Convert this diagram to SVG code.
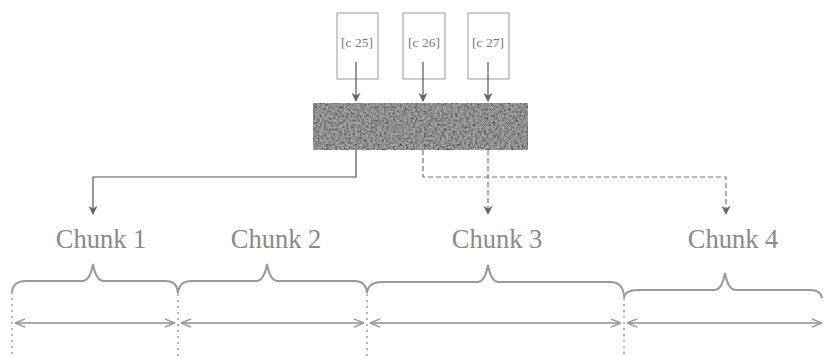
<svg xmlns="http://www.w3.org/2000/svg" width="827" height="358" viewBox="0 0 827 358">
<style>
.box{fill:#fff;stroke:#999;stroke-width:1}
.btxt{font-family:"Liberation Serif",serif;font-size:13.5px;fill:#777;text-anchor:middle}
.chunk{font-family:"Liberation Serif",serif;font-size:26.5px;fill:#8a8a8a;text-anchor:middle}
.conn{fill:none;stroke:#555;stroke-width:1.2}
.dash{fill:none;stroke:#777;stroke-width:1.2;stroke-dasharray:5 3}
.brace{fill:none;stroke:#999;stroke-width:2}
.dim{fill:none;stroke:#aaa;stroke-width:2}
.vdot{fill:none;stroke:#888;stroke-width:1.2;stroke-dasharray:2 4}
</style>
<defs>
<marker id="ah" viewBox="0 0 10 10" refX="9" refY="5" markerWidth="9" markerHeight="9" orient="auto-start-reverse" markerUnits="userSpaceOnUse">
<path d="M0,0 L10,5 L0,10 L3,5 Z" fill="#666"/>
</marker>
<marker id="oh" viewBox="0 0 10 10" refX="10" refY="5" markerWidth="10" markerHeight="10" orient="auto-start-reverse" markerUnits="userSpaceOnUse">
<path d="M0,1 L10,5 L0,9" fill="none" stroke="#999" stroke-width="1.5"/>
</marker>
<filter id="noise" x="0" y="0" width="100%" height="100%">
<feTurbulence type="fractalNoise" baseFrequency="0.45" numOctaves="2" seed="3" result="t"/>
<feColorMatrix in="t" type="matrix" values="0 0 0 0 0  0 0 0 0 0  0 0 0 0 0  1.8 0 0 0 -0.55" result="a"/>
<feFlood flood-color="#3a3a3a" result="f"/>
<feComposite in="f" in2="a" operator="in" result="dots"/>
<feComposite in="dots" in2="SourceGraphic" operator="in" result="d2"/>
<feMerge><feMergeNode in="SourceGraphic"/><feMergeNode in="d2"/></feMerge>
</filter>
</defs>

<g id="box-c25"><rect class="box" x="337" y="13" width="41" height="66"/><text class="btxt" x="357" y="47">[c 25]</text></g>
<g id="box-c26"><rect class="box" x="403" y="13" width="42" height="66"/><text class="btxt" x="424" y="47">[c 26]</text></g>
<g id="box-c27"><rect class="box" x="468" y="13" width="41" height="66"/><text class="btxt" x="488" y="47">[c 27]</text></g>

<g id="block"><rect x="313" y="103" width="215" height="47" fill="#a8a8a8" filter="url(#noise)"/></g>

<g id="chunk1"><text class="chunk" x="101" y="248">Chunk 1</text></g>
<g id="chunk2"><text class="chunk" x="276" y="248">Chunk 2</text></g>
<g id="chunk3"><text class="chunk" x="497" y="248">Chunk 3</text></g>
<g id="chunk4"><text class="chunk" x="733" y="248">Chunk 4</text></g>

<g id="braces">
<path class="brace" d="M12,292 Q13,281 26,281 L82,281 Q90,281 93,264 Q96,281 104,281 L166,281 Q177,281 178,293"/>
<path class="brace" d="M178,293 Q179,281 192,281 L256,281 Q264,281 267,264 Q270,281 278,281 L354,281 Q366,281 367,293"/>
<path class="brace" d="M367,293 Q368,282 382,282 L477,282 Q485,282 488,265 Q491,282 499,282 L610,282 Q623,282 624,296"/>
<path class="brace" d="M624,298 Q625,290 638,290 L714,290 Q722,290 725,273 Q728,290 736,290 L810,290 Q821,290 822,298"/>
</g>

<g id="dimensions">
<line class="vdot" x1="12" y1="292" x2="12" y2="358"/>
<line class="vdot" x1="178" y1="294" x2="178" y2="358"/>
<line class="vdot" x1="367" y1="294" x2="367" y2="358"/>
<line class="vdot" x1="624" y1="298" x2="624" y2="358"/>
<line class="dim" x1="15" y1="323" x2="175" y2="323" marker-start="url(#oh)" marker-end="url(#oh)"/>
<line class="dim" x1="181" y1="323" x2="364" y2="323" marker-start="url(#oh)" marker-end="url(#oh)"/>
<line class="dim" x1="370" y1="323" x2="621" y2="323" marker-start="url(#oh)" marker-end="url(#oh)"/>
<line class="dim" x1="627" y1="323" x2="822" y2="323" marker-start="url(#oh)" marker-end="url(#oh)"/>
</g>

<g id="connectors">
<line class="conn" x1="356" y1="62" x2="356" y2="101" marker-end="url(#ah)"/>
<line class="conn" x1="423" y1="62" x2="423" y2="101" marker-end="url(#ah)"/>
<line class="conn" x1="488" y1="62" x2="488" y2="101" marker-end="url(#ah)"/>
<path class="conn" d="M356,150 L356,177 L93,177 L93,214" marker-end="url(#ah)"/>
<path class="dash" d="M423,150 L423,177 L726,177 L726,214" marker-end="url(#ah)"/>
<path class="dash" d="M488,150 L488,214" marker-end="url(#ah)"/>
</g>
</svg>
